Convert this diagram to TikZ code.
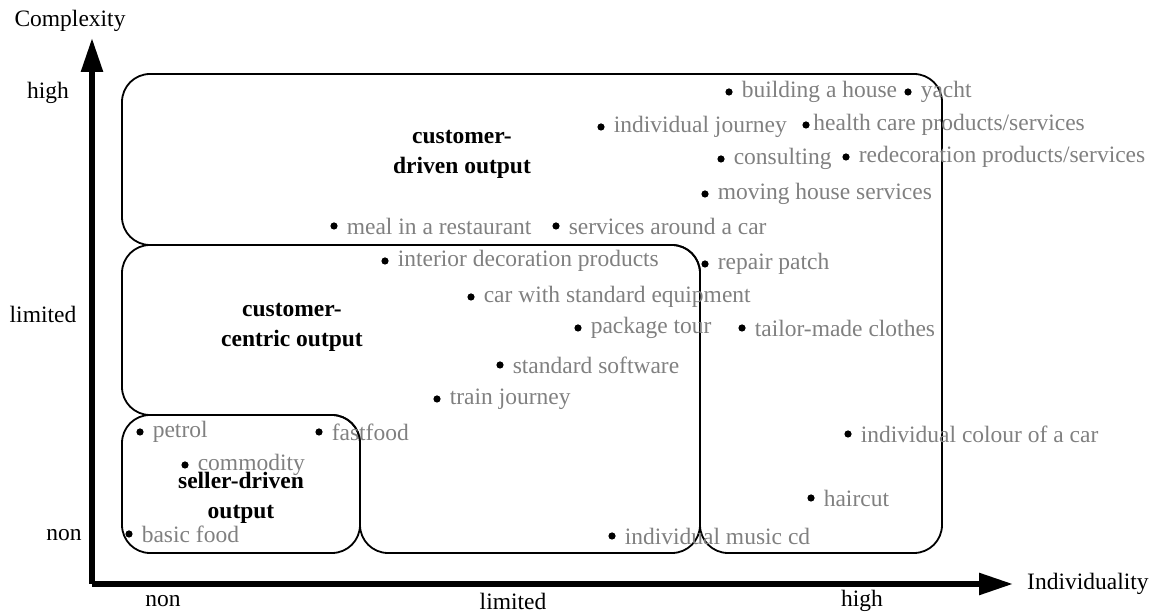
\documentclass[tikz,border=0pt]{standalone}
\usepackage{fontspec}
\setmainfont{Liberation Serif}
\usetikzlibrary{arrows.meta,positioning}
\begin{document}
\fontsize{11.75}{15}\selectfont
\begin{tikzpicture}[x=0.5pt,y=-0.5pt]

\def\rad{14pt}
\tikzstyle{dot} = [
	circle, fill=black, inner sep=0pt, minimum size=3.6pt ];
\tikzstyle{item} = [text=black!50, inner sep=0pt, right=4.2pt of #1];
\tikzstyle{area} = [draw, line width=0.9pt, rounded corners=\rad];
\tikzstyle{title} = [font=\bfseries, align=center];
\tikzstyle{axis} = [line width=2.8pt, -{Triangle[length=17pt,width=10.5pt]}];
\useasboundingbox (0,0) rectangle (1157,613);

% regions
\draw[area] (122,74) -- (942,74) -- (942,553) -- (700,553) -- (700,245) -- (122,245) -- cycle;
\draw[area] (122,245) -- (700,245) -- (700,553) -- (360,553) -- (360,415) -- (122,415) -- cycle;
\draw[area] (122,415) rectangle (360,553);

\node[title] (r1) at (462,154) {customer-\\driven output};
\node[title] (r2) at (292,327) {customer-\\centric output};
\node[title] (r3) at (241,498) {seller-driven\\output};

% axes
\coordinate (o) at (92,584);
\coordinate (ytip) at (92,38);
\coordinate (xtip) at (1013,584);
\draw[axis] (o) -- (ytip);
\draw[axis] (o) -- (xtip);
\node (ylab) at (70,21) {Complexity};
\node[right=3pt of xtip] (xlab) {Individuality};
\node (y1) at (48,93) {high};
\node (y2) at (43,314) {limited};
\node (y3) at (64,535) {non};
\node (x1) at (163,601) {non};
\node (x2) at (513,601) {limited};
\node (x3) at (862,601) {high};

% outputs
\node[dot] (p1) at (729,92) {};
\node[item=p1] (t1) {building a house};
\node[dot] (p2) at (908,92) {};
\node[item=p2] (t2) {yacht};
\node[dot] (p3) at (601,127) {};
\node[item=p3] (t3) {individual journey};
\node[dot] (p4) at (806,125) {};
\node[item=p4,right=1.5pt of p4] (t4) {health care products/services};
\node[dot] (p5) at (721,159) {};
\node[item=p5] (t5) {consulting};
\node[dot] (p6) at (846,157) {};
\node[item=p6] (t6) {redecoration products/services};
\node[dot] (p7) at (705,194) {};
\node[item=p7] (t7) {moving house services};
\node[dot] (p8) at (334,226) {};
\node[item=p8] (t8) {meal in a restaurant};
\node[dot] (p9) at (556,226) {};
\node[item=p9] (t9) {services around a car};
\node[dot] (p10) at (385,261) {};
\node[item=p10] (t10) {interior decoration products};
\node[dot] (p11) at (705,264) {};
\node[item=p11] (t11) {repair patch};
\node[dot] (p12) at (471,297) {};
\node[item=p12] (t12) {car with standard equipment};
\node[dot] (p13) at (578,328) {};
\node[item=p13] (t13) {package tour};
\node[dot] (p14) at (742,328) {};
\node[item=p14] (t14) {tailor-made clothes};
\node[dot] (p15) at (500,365) {};
\node[item=p15] (t15) {standard software};
\node[dot] (p16) at (437,399) {};
\node[item=p16] (t16) {train journey};
\node[dot] (p17) at (140,432) {};
\node[item=p17] (t17) {petrol};
\node[dot] (p18) at (319,432) {};
\node[item=p18] (t18) {fastfood};
\node[dot] (p19) at (848,434) {};
\node[item=p19] (t19) {individual colour of a car};
\node[dot] (p20) at (185,465) {};
\node[item=p20] (t20) {commodity};
\node[dot] (p21) at (811,498) {};
\node[item=p21] (t21) {haircut};
\node[dot] (p22) at (129,534) {};
\node[item=p22] (t22) {basic food};
\node[dot] (p23) at (612,536) {};
\node[item=p23] (t23) {individual music cd};

\end{tikzpicture}
\end{document}
